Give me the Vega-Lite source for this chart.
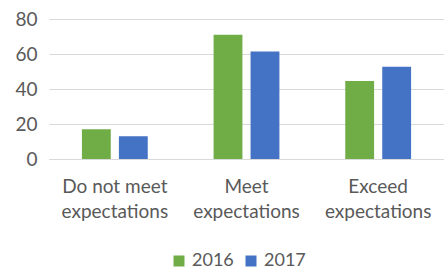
{
  "$schema": "https://vega.github.io/schema/vega-lite/v6.json",
  "width": 395,
  "height": 140,
  "autosize": {"type": "none"},
  "padding": {"left": 49, "top": 19, "right": 0, "bottom": 113},
  "background": "white",
  "data": {
    "values": [
      {"category": "Do not meet expectations", "year": "2016", "value": 17},
      {"category": "Do not meet expectations", "year": "2017", "value": 13},
      {"category": "Meet expectations", "year": "2016", "value": 71},
      {"category": "Meet expectations", "year": "2017", "value": 61.5},
      {"category": "Exceed expectations", "year": "2016", "value": 44.6},
      {"category": "Exceed expectations", "year": "2017", "value": 52.7}
    ]
  },
  "mark": {"type": "bar"},
  "encoding": {
    "x": {
      "field": "category",
      "type": "nominal",
      "sort": null,
      "scale": {"paddingInner": 0.5, "paddingOuter": 0.25},
      "axis": {
        "title": null,
        "labelAngle": 0,
        "labelExpr": "[replace(datum.label, ' expectations', ''), 'expectations']",
        "labelFont": "Lato",
        "labelFontSize": 19,
        "labelLineHeight": 25,
        "labelColor": "#595959",
        "labelPadding": 18,
        "ticks": false,
        "domainColor": "#d9d9d9",
        "domainWidth": 1
      }
    },
    "xOffset": {"field": "year", "type": "nominal", "scale": {"paddingInner": 0.22}},
    "y": {
      "field": "value",
      "type": "quantitative",
      "scale": {"domain": [0, 80]},
      "axis": {
        "title": null,
        "values": [0, 20, 40, 60, 80],
        "labelFont": "Lato",
        "labelFontSize": 19,
        "labelColor": "#595959",
        "labelPadding": 12,
        "ticks": false,
        "domain": false,
        "gridColor": "#d9d9d9",
        "gridWidth": 1
      }
    },
    "color": {
      "field": "year",
      "type": "nominal",
      "scale": {"domain": ["2016", "2017"], "range": ["#70AD47", "#4472C4"]},
      "legend": {
        "title": null,
        "orient": "none",
        "direction": "horizontal",
        "legendX": 121,
        "legendY": 233,
        "symbolType": "square",
        "symbolSize": 121,
        "symbolStrokeWidth": 0,
        "labelFont": "Lato",
        "labelFontSize": 18,
        "labelColor": "#595959",
        "labelOffset": 4,
        "columnPadding": 8
      }
    }
  },
  "config": {"view": {"stroke": null}}
}
